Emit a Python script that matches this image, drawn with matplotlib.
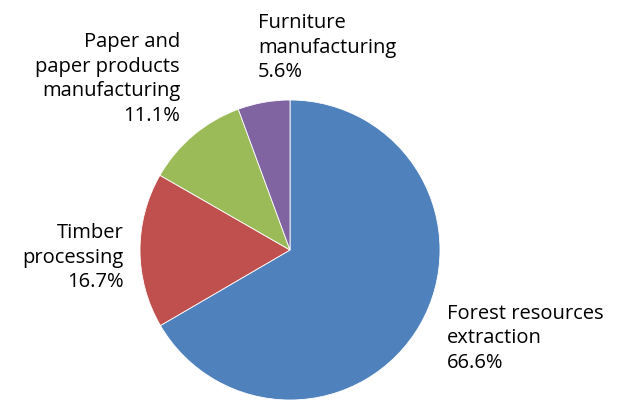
import matplotlib
matplotlib.use("Agg")
import matplotlib.pyplot as plt

categories = ["Forest resources\nextraction", "Timber\nprocessing",
              "Paper and\npaper products\nmanufacturing", "Furniture\nmanufacturing"]
shares = [66.6, 16.7, 11.1, 5.6]
colors = ["#4F81BD", "#C0504D", "#9BBB59", "#8064A2"]

W, H = 625, 401
fig = plt.figure(figsize=(W / 100, H / 100), dpi=100)
ax = fig.add_axes([140 / W, 1 / H, 300 / W, 300 / H])
ax.pie(shares, colors=colors, startangle=90, counterclock=False,
       wedgeprops=dict(edgecolor="white", linewidth=0.6))
ax.set_xlim(-1, 1)
ax.set_ylim(-1, 1)
ax.set_aspect("equal")
ax.axis("off")

# label anchors in axes data units (radius = 1)
anchors = [(1.047, -0.587, "left"), (-1.107, -0.053, "right"),
           (-0.733, 1.14, "right"), (-0.213, 1.347, "left")]
for name, v, (x, y, ha) in zip(categories, shares, anchors):
    ax.text(x, y, f"{name}\n{v:.1f}%", ha=ha, va="center", multialignment=ha,
            fontsize=14.5, family="Open Sans", linespacing=1.3, color="black",
            clip_on=False)

fig.savefig("out.png", dpi=100)
